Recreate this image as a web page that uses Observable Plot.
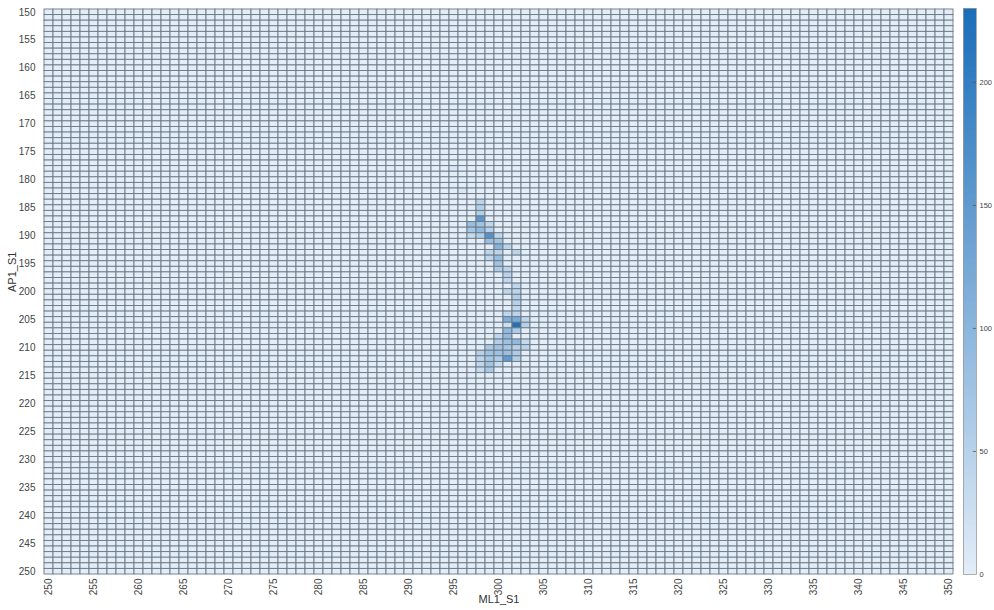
<!DOCTYPE html>
<html>
<head>
<meta charset="utf-8">
<script src="https://cdn.jsdelivr.net/npm/d3@7"></script>
<script src="https://cdn.jsdelivr.net/npm/@observablehq/plot@0.6"></script>
<style>
  html, body { margin: 0; padding: 0; background: #fff; }
  #wrap { display: flex; flex-direction: row; width: 994px; height: 610px; overflow: hidden; }
  svg { font-family: "Liberation Sans", Arial, sans-serif; }
</style>
</head>
<body>
<div id="wrap"></div>
<script>
// Axis categories
const mlCategories = d3.range(250, 351);   // ML1_S1 (x)
const apCategories = d3.range(150, 251);   // AP1_S1 (y)
const mlTicks = d3.range(250, 351, 5);
const apTicks = d3.range(150, 251, 5);
const colorTicks = [0, 50, 100, 150, 200];
const colorMax = 230;

// Non-zero cells (all other cells are 0)
const hotML = [295, 296, 298, 298, 298, 298, 297, 298, 299, 297, 298, 299, 299, 298, 300, 297, 299, 300, 300, 301, 302, 299, 300, 299, 300, 300, 300, 301, 301, 301, 302, 302, 301, 302, 302, 302, 301, 302, 301, 302, 303, 301, 302, 303, 301, 302, 301, 300, 301, 302, 303, 300, 300, 301, 299, 302, 303, 298, 299, 300, 301, 302, 298, 299, 300, 301, 302, 298, 299, 299, 300, 298];
const hotAP = [178, 182, 184, 185, 186, 187, 188, 188, 188, 189, 189, 189, 190, 190, 190, 190, 191, 191, 192, 192, 193, 193, 193, 194, 194, 195, 196, 196, 197, 198, 199, 200, 200, 201, 202, 203, 204, 204, 205, 205, 205, 206, 206, 206, 207, 207, 208, 208, 209, 209, 209, 209, 210, 210, 210, 210, 210, 211, 211, 211, 211, 211, 212, 212, 212, 212, 212, 213, 213, 214, 213, 214];
const hotCount = [12, 10, 45, 50, 55, 155, 85, 75, 40, 70, 95, 50, 165, 55, 40, 35, 85, 75, 105, 45, 45, 40, 45, 40, 85, 75, 60, 45, 50, 40, 40, 45, 40, 55, 50, 40, 40, 45, 115, 120, 40, 25, 225, 50, 95, 60, 90, 40, 80, 95, 35, 55, 75, 70, 65, 50, 45, 50, 75, 80, 85, 60, 45, 70, 60, 150, 55, 40, 75, 65, 30, 30];

const lookup = new Map(hotML.map((m, i) => [m + "_" + hotAP[i], hotCount[i]]));
const grid = [];
for (const ap of apCategories) for (const ml of mlCategories) {
  grid.push({ml, ap, v: lookup.get(ml + "_" + ap) ?? 0});
}

const colorScale = {type: "linear", domain: [0, colorMax], range: ["#e2edf8", "#1a6eb9"], interpolate: "rgb"};

const main = Plot.plot({
  width: 960,
  height: 610,
  marginLeft: 40,
  marginRight: 3,
  marginTop: 9,
  marginBottom: 36,
  style: {fontSize: "10px", color: "#444"},
  x: {type: "band", domain: mlCategories, padding: 0},
  y: {type: "band", domain: apCategories, padding: 0},
  color: colorScale,
  marks: [
    Plot.cell(grid, {x: "ml", y: "ap", fill: "v", stroke: "#6c7883", strokeWidth: 0.9, inset: 0}),
    Plot.axisX({ticks: mlTicks, tickSize: 0, tickPadding: 4, tickRotate: -90, label: null, fill: "#444"}),
    Plot.axisY({ticks: apTicks, tickSize: 0, tickPadding: 5, label: null, fill: "#444"}),
    Plot.text(["ML1_S1"], {frameAnchor: "bottom", dy: 28, fontSize: 11, fill: "#333"}),
    Plot.text(["AP1_S1"], {frameAnchor: "left", dx: -28, rotate: -90, fontSize: 11, fill: "#333"})
  ]
});

const rampSteps = d3.range(0, colorMax, 1);
const bar = Plot.plot({
  width: 34,
  height: 610,
  marginLeft: 3,
  marginRight: 18,
  marginTop: 8,
  marginBottom: 36,
  style: {fontSize: "7.5px", color: "#444", overflow: "visible"},
  x: {domain: [0, 1], axis: null},
  y: {domain: [0, colorMax]},
  color: colorScale,
  marks: [
    Plot.rect(rampSteps, {x1: 0, x2: 1, y1: d => d, y2: d => Math.min(d + 1.6, colorMax), fill: d => d + 0.5, shapeRendering: "crispEdges"}),
    Plot.frame({stroke: "#999", strokeWidth: 0.8}),
    Plot.ruleY(colorTicks.slice(1), {x1: 0.75, x2: 1, stroke: "#555", strokeWidth: 0.8}),
    Plot.axisY({ticks: colorTicks, anchor: "right", tickSize: 0, tickPadding: 3, label: null, fill: "#444"})
  ]
});

const wrap = document.getElementById("wrap");
wrap.appendChild(main);
wrap.appendChild(bar);
</script>
</body>
</html>
